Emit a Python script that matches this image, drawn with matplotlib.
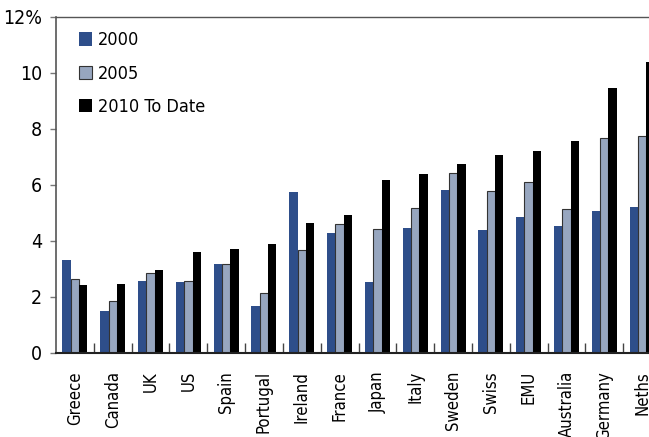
import numpy as np
import matplotlib.pyplot as plt

plt.rcParams["font.family"] = ["DejaVu Sans"]
plt.rcParams["font.stretch"] = "condensed"

countries = ["Greece", "Canada", "UK", "US", "Spain", "Portugal", "Ireland", "France",
             "Japan", "Italy", "Sweden", "Swiss", "EMU", "Australia", "Germany", "Neths"]
y2000 = [3.32, 1.50, 2.57, 2.54, 3.18, 1.68, 5.75, 4.29, 2.54, 4.46, 5.82, 4.39, 4.86, 4.54, 5.07, 5.21]
y2005 = [2.65, 1.86, 2.85, 2.58, 3.19, 2.13, 3.69, 4.60, 4.43, 5.19, 6.43, 5.77, 6.10, 5.14, 7.67, 7.74]
y2010 = [2.43, 2.46, 2.96, 3.60, 3.73, 3.89, 4.64, 4.94, 6.18, 6.38, 6.74, 7.08, 7.23, 7.58, 9.46, 10.40]

series = [
    ("2000", y2000, "#2e4e8a", "#2e4e8a"),
    ("2005", y2005, "#97a6bf", "#333333"),
    ("2010 To Date", y2010, "#000000", "#000000"),
]

fig = plt.figure(figsize=(6.49, 4.37), dpi=100)
# axes run a little past the right edge of the figure
ax = fig.add_axes([56 / 649, 84 / 437, 605 / 649, 336 / 437])

x = np.arange(len(countries))
width = 0.22
for i, (label, vals, face, edge) in enumerate(series):
    ax.bar(x + (i - 1) * width, vals, width=width, color=face, edgecolor=edge,
           linewidth=0.8 if i == 1 else 0, label=label)

ax.set_xlim(-0.5, len(countries) - 0.5)
ax.set_ylim(0, 12)
ax.set_yticks([0, 2, 4, 6, 8, 10, 12])
ax.set_yticklabels(["0", "2", "4", "6", "8", "10", "12%"])
ax.set_xticks(x)
ax.set_xticklabels(countries, rotation=90, fontsize=12)
ax.set_xticks(x[:-1] + 0.5, minor=True)

ax.tick_params(axis="x", which="major", length=0, pad=13)
ax.tick_params(axis="x", which="minor", direction="in", length=7, width=1, color="#444444")
ax.tick_params(axis="y", direction="out", length=4, width=1, color="#777777",
               labelsize=14, pad=6)

ax.spines["right"].set_visible(False)
ax.spines["top"].set_color("#555555")
ax.spines["top"].set_linewidth(1)
ax.spines["left"].set_color("#555555")
ax.spines["left"].set_linewidth(1.2)
ax.spines["bottom"].set_color("#222222")
ax.spines["bottom"].set_linewidth(1.5)

ax.legend(loc="upper left", bbox_to_anchor=(0.02, 0.99), frameon=False, fontsize=13,
          handlelength=0.75, handleheight=0.75, handletextpad=0.3, labelspacing=0.85,
          borderaxespad=0.2)

fig.savefig("out.png", dpi=100)
